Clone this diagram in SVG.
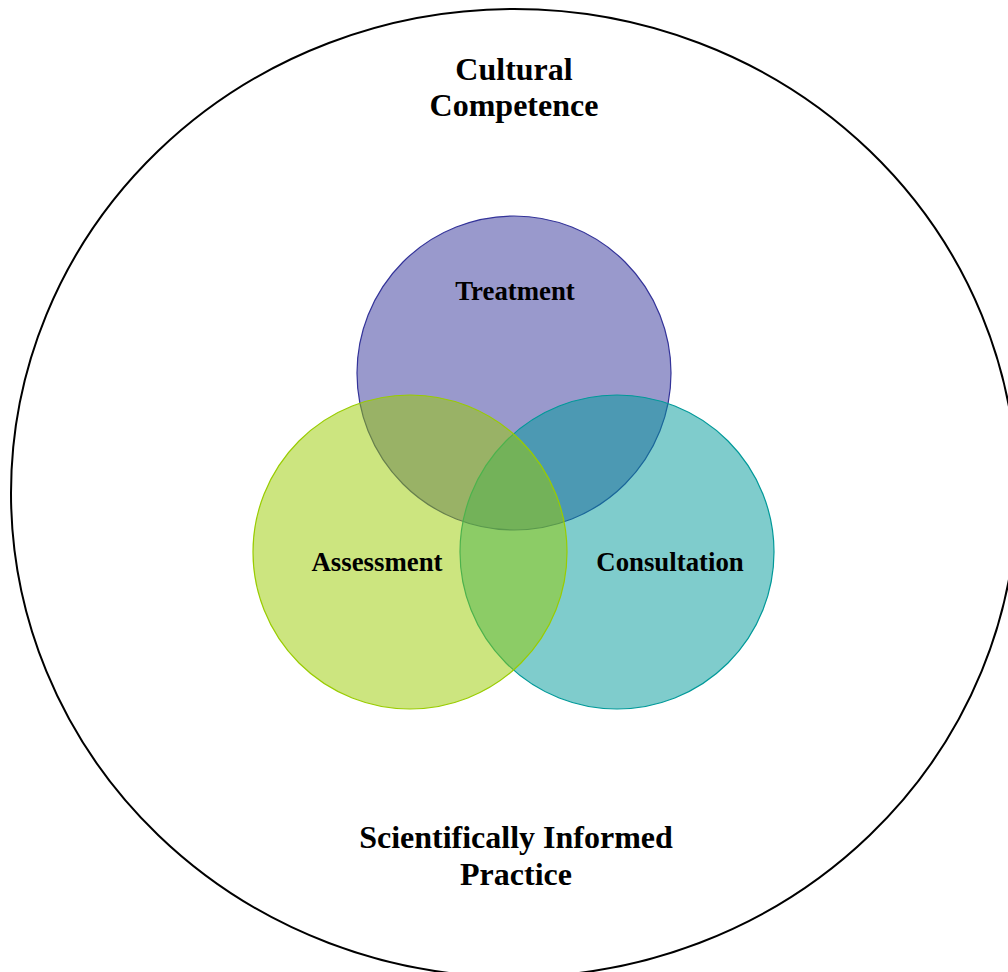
<svg xmlns="http://www.w3.org/2000/svg" width="1008" height="972" viewBox="0 0 1008 972">
<style>
.t{font-family:"Liberation Serif","Times New Roman",serif;font-weight:bold;fill:#000;text-anchor:middle}
.big{font-size:32px}
.sm{font-size:26.8px}
.c{fill-opacity:0.5;stroke-width:1.2}
</style>
<rect width="1008" height="972" fill="#fff"/>
<g id="outer">
<ellipse cx="514" cy="493" rx="503" ry="484" fill="none" stroke="#000" stroke-width="2"/>
<text class="t big" x="514" y="80">Cultural</text>
<text class="t big" x="514" y="116">Competence</text>
<text class="t big" x="516" y="848">Scientifically Informed</text>
<text class="t big" x="516" y="885">Practice</text>
</g>
<g id="treatment">
<circle class="c" cx="514" cy="373" r="157" fill="#333399" stroke="#333399"/>
</g>
<g id="consultation">
<circle class="c" cx="617" cy="552" r="157" fill="#009999" stroke="#009999"/>
</g>
<g id="assessment">
<circle class="c" cx="410" cy="552" r="157" fill="#99cc00" stroke="#99cc00"/>
</g>
<g id="labels">
<text class="t sm" x="515" y="300">Treatment</text>
<text class="t sm" x="377" y="571">Assessment</text>
<text class="t sm" x="670" y="571">Consultation</text>
</g>
<g id="connectors"></g>
</svg>
